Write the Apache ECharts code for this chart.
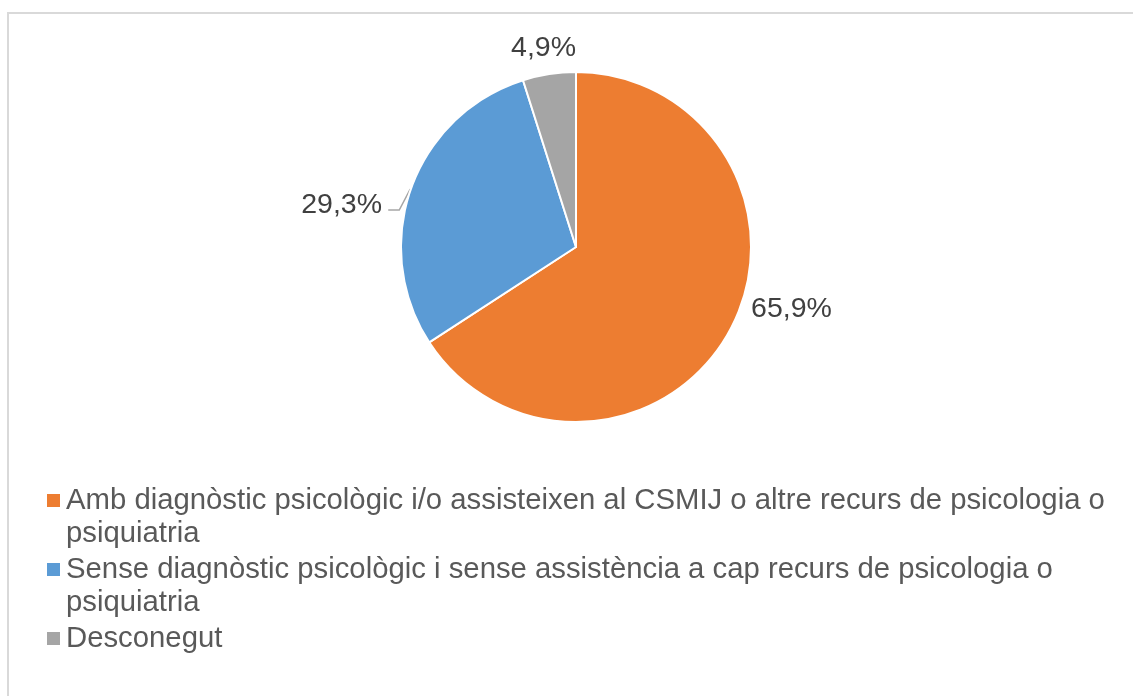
<!DOCTYPE html>
<html>
<head>
<meta charset="utf-8">
<script src="https://cdn.jsdelivr.net/npm/echarts@6/dist/echarts.min.js"></script>
<style>
  html, body { margin: 0; padding: 0; background: #fff; }
  #chart { width: 1133px; height: 696px; }
</style>
</head>
<body>
<div id="chart"></div>
<script>
// categories (legend text, wrapped like the original)
var categories = [
  'Amb diagnòstic psicològic i/o assisteixen al CSMIJ o altre recurs de psicologia o\npsiquiatria',
  'Sense diagnòstic psicològic i sense assistència a cap recurs de psicologia o\npsiquiatria',
  'Desconegut'
];
var values = [65.9, 29.3, 4.9];
var colors = ['#ED7D31', '#5B9BD5', '#A5A5A5'];
var showLines = [false, true, false];
// small nudges so labels sit where Excel put them
var labelShift = [[-8, -28], [1, 22], [46, -12]];

var cx = 576, cy = 247, r = 175;

var myChart = echarts.init(document.getElementById('chart'));

// point on the pie edge at the middle of slice i
function edgePoint(i) {
    var total = values.reduce(function (a, b) { return a + b; }, 0);
    var before = 0;
    for (var k = 0; k < i; k++) before += values[k];
    var a = 2 * Math.PI * (before + values[i] / 2) / total;
    return [cx + r * Math.sin(a), cy - r * Math.cos(a)];
}

myChart.setOption({
    animation: false,
    graphic: [{
        type: 'rect',
        shape: { x: 8, y: 13, width: 1300, height: 900 },
        style: { fill: 'none', stroke: '#d9d9d9', lineWidth: 2 },
        silent: true
    }],
    legend: {
        orient: 'vertical',
        left: 45,
        top: 451,
        padding: 0,
        itemWidth: 15,
        itemHeight: 15,
        itemGap: -30,
        icon: 'rect',
        // blank first line so the marker lines up with the first text line
        formatter: function (name) {
            return '\n' + name + (name.indexOf('\n') < 0 ? '\n' : '');
        },
        textStyle: {
            fontFamily: 'Liberation Sans, Arial, sans-serif',
            fontSize: 29.3,
            color: '#595959',
            lineHeight: 33
        },
        data: categories
    },
    series: [
        {
            name: '',
            type: 'pie',
            radius: r,
            center: [cx, cy],
            startAngle: 90,
            clockwise: true,
            avoidLabelOverlap: false,
            data: categories.map(function (name, i) {
                return {
                    name: name,
                    value: values[i],
                    itemStyle: { color: colors[i] },
                    labelLine: { show: showLines[i] }
                };
            }),
            itemStyle: {
                borderColor: '#fff',
                borderWidth: 2
            },
            label: {
                show: true,
                position: 'outside',
                formatter: function (p) {
                    return p.value.toFixed(1).replace('.', ',') + '%';
                },
                fontFamily: 'Liberation Sans, Arial, sans-serif',
                fontSize: 28.5,
                color: '#404040'
            },
            labelLine: {
                show: true,
                length: 14,
                length2: 12,
                maxSurfaceAngle: 180,
                minTurnAngle: 0,
                lineStyle: { color: '#a6a6a6', width: 1.5 }
            },
            labelLayout: function (params) {
                var s = labelShift[params.dataIndex];
                var out = { dx: s[0], dy: s[1] };
                if (params.dataIndex === 1) {
                    var p0 = edgePoint(1);
                    out.labelLinePoints = [
                        [p0[0] - 1, p0[1] + 1],
                        [p0[0] - 12, p0[1] + 22],
                        [p0[0] - 23, p0[1] + 22]
                    ];
                }
                return out;
            }
        }
    ]
});
</script>
</body>
</html>
